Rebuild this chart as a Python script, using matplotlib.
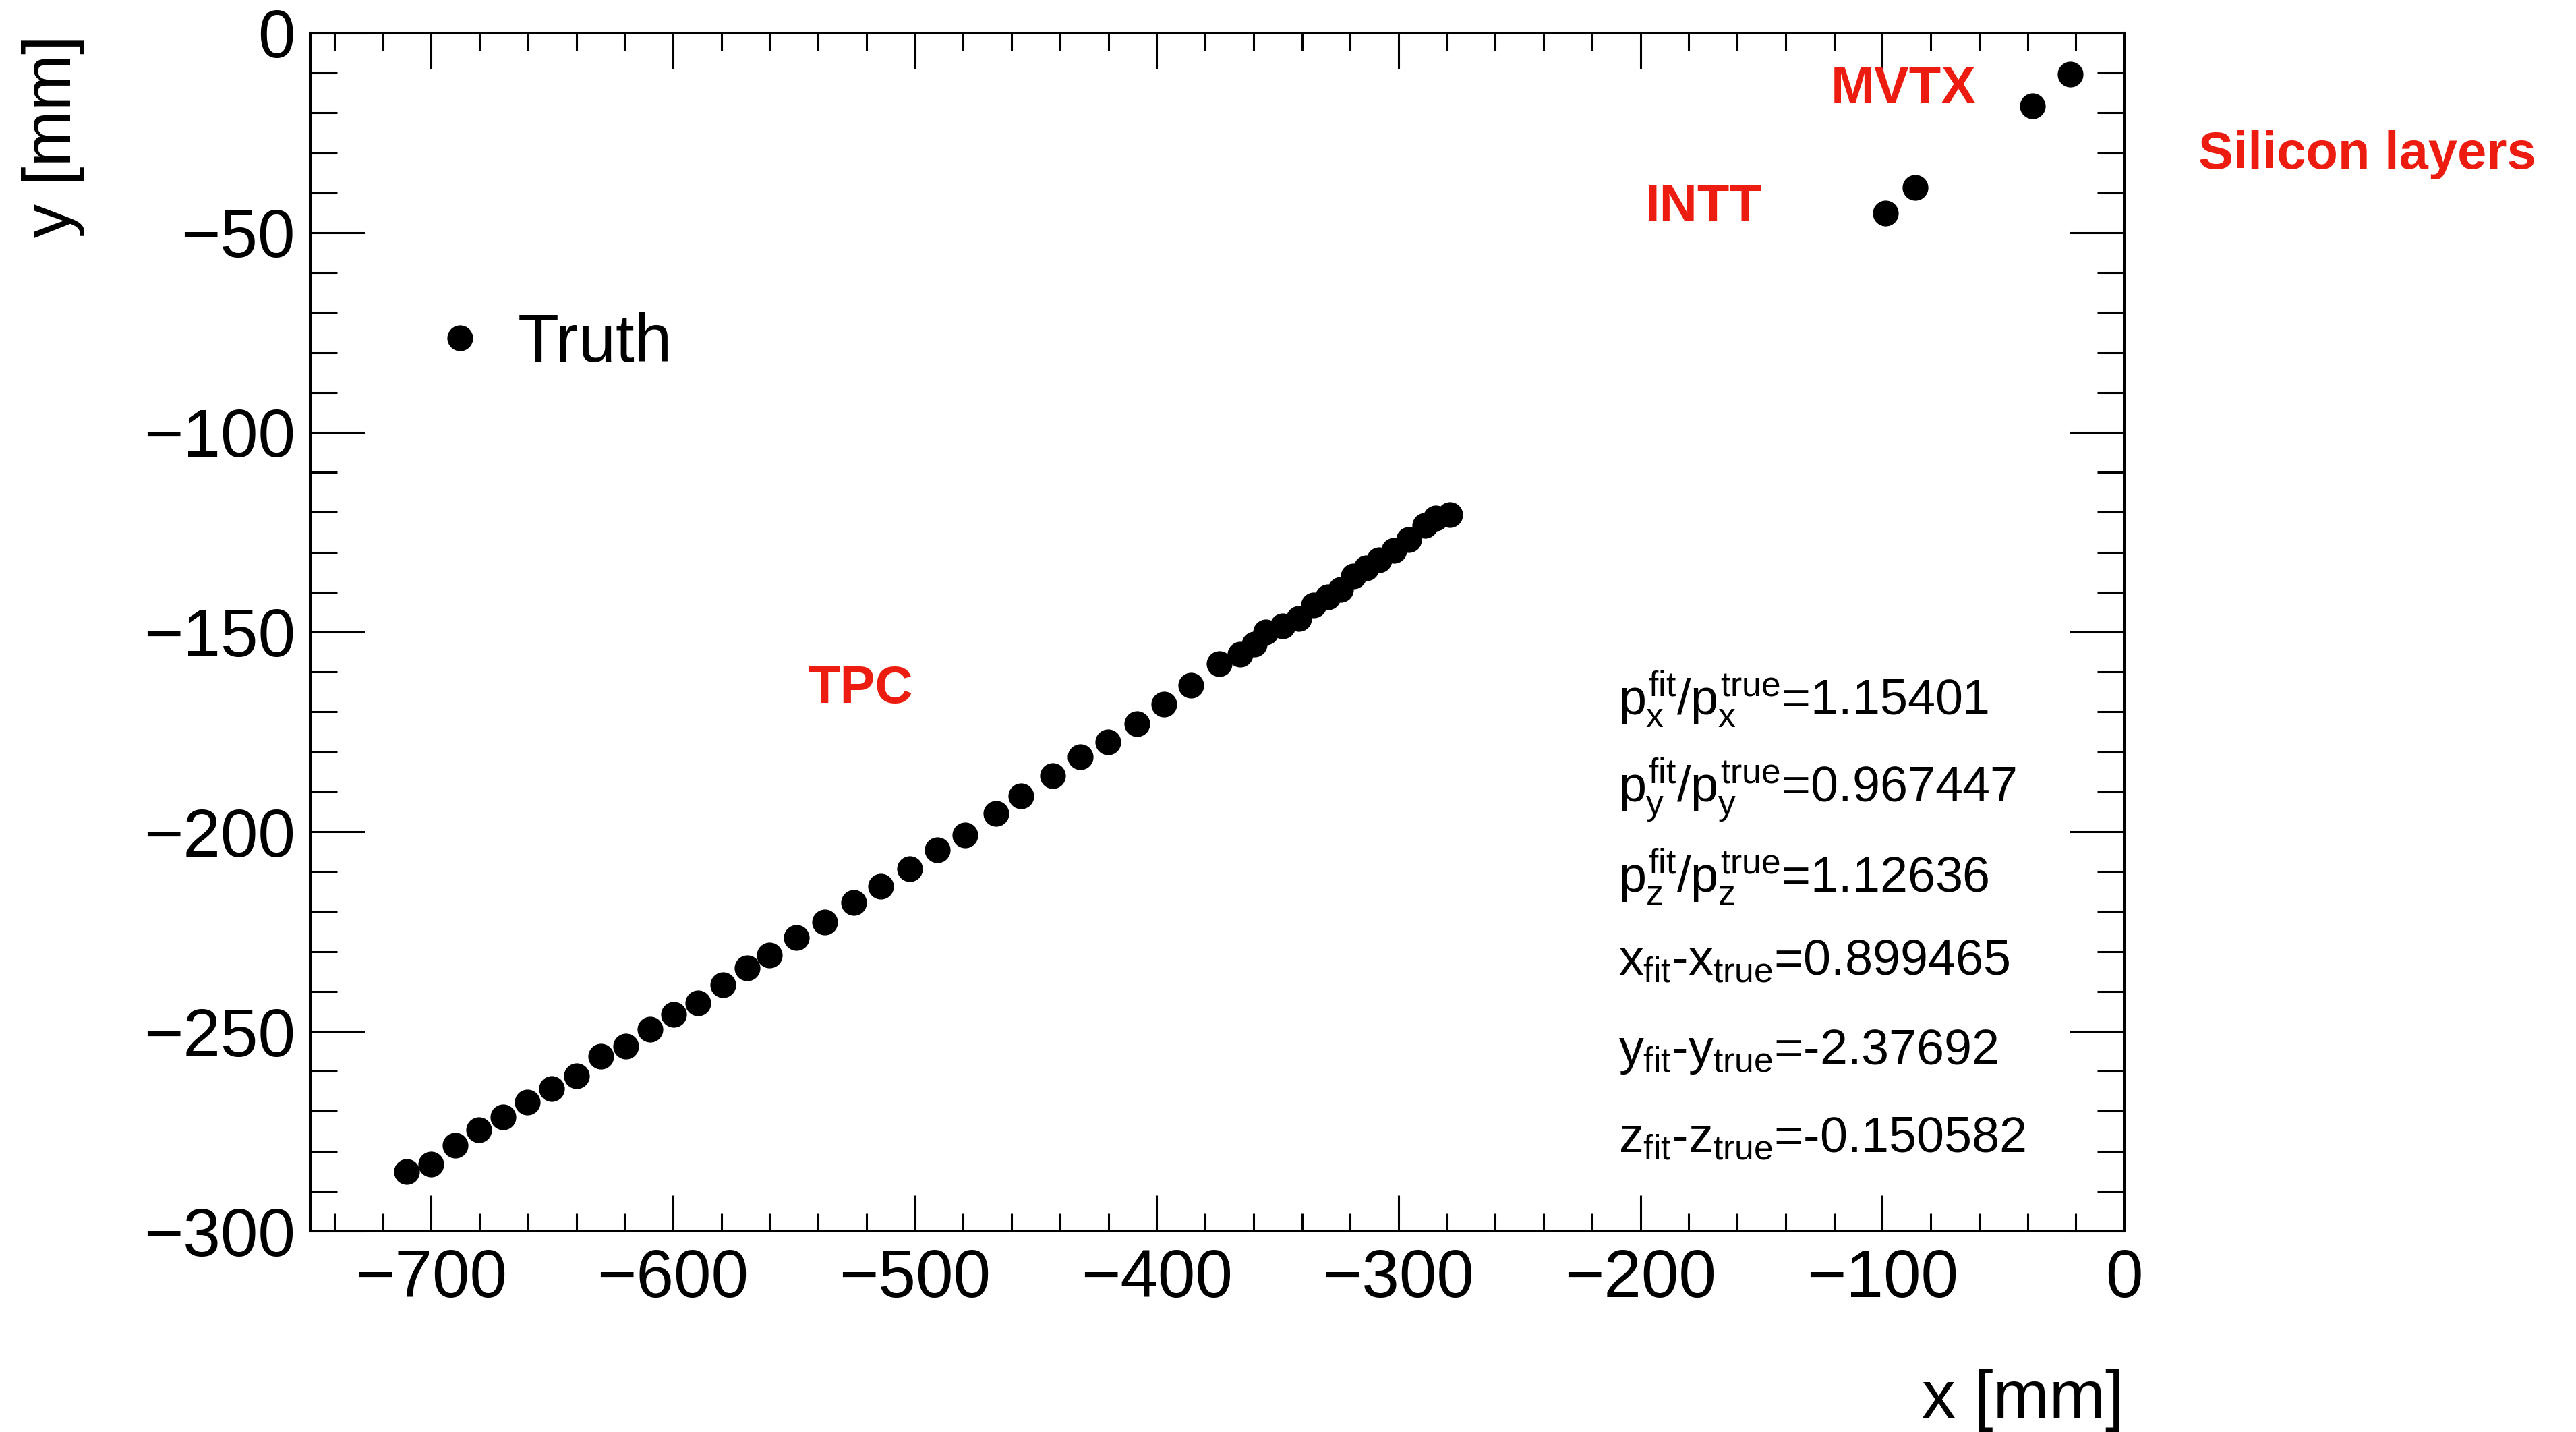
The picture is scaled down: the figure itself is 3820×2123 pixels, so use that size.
import matplotlib
matplotlib.use('Agg')
import matplotlib.pyplot as plt
from matplotlib.ticker import MultipleLocator

plt.rcParams['font.family'] = ['Liberation Sans', 'DejaVu Sans']
plt.rcParams['mathtext.fontset'] = 'custom'
plt.rcParams['mathtext.rm'] = 'Liberation Sans'
plt.rcParams['mathtext.it'] = 'Liberation Sans'
plt.rcParams['mathtext.bf'] = 'Liberation Sans:bold'

# truth hits (TPC)
x_tpc = [-710.2, -700.0, -690.1, -680.2, -670.2, -660.3, -650.1, -639.8, -629.9, -619.4,
         -609.4, -599.8, -589.6, -579.4, -569.4, -560.2, -549.0, -537.4, -525.3, -514.1,
         -502.2, -490.7, -479.2, -466.4, -456.2, -443.0, -431.5, -420.3, -408.2, -397.0,
         -385.8, -374.2, -365.6, -359.8, -355.0, -348.0, -341.3, -335.2, -329.4, -324.0,
         -318.6, -313.4, -308.0, -301.9, -295.8, -289.1, -284.6, -278.9]
y_tpc = [-285.2, -283.2, -278.6, -274.6, -271.4, -267.8, -264.3, -261.2, -256.3, -253.7,
         -249.5, -245.7, -242.9, -238.4, -234.2, -230.9, -226.5, -222.7, -217.7, -213.7,
         -209.3, -204.5, -200.8, -195.5, -191.1, -185.9, -181.2, -177.5, -172.9, -168.0,
         -163.4, -157.9, -155.5, -153.1, -150.0, -148.4, -146.6, -143.3, -141.3, -139.4,
         -136.0, -133.9, -132.0, -129.5, -126.9, -123.3, -121.4, -120.6]
# silicon hits (INTT, MVTX)
x_si = [-98.8, -86.5, -37.9, -22.2]
y_si = [-45.1, -38.7, -18.2, -10.3]

x_truth = x_tpc + x_si
y_truth = y_tpc + y_si

stats_labels = [r'$p_{x}^{fit}/p_{x}^{true}$',
                r'$p_{y}^{fit}/p_{y}^{true}$',
                r'$p_{z}^{fit}/p_{z}^{true}$',
                r'$x_{fit}$-$x_{true}$',
                r'$y_{fit}$-$y_{true}$',
                r'$z_{fit}$-$z_{true}$']
stats_values = ['1.15401', '0.967447', '1.12636', '0.899465', '-2.37692', '-0.150582']

red = '#ed1c10'

fig = plt.figure(figsize=(38.2, 21.23), dpi=100)
ax = fig.add_axes([460/3820, 1 - 1825/2123, 2690/3820, 1776/2123])

ax.plot(x_truth, y_truth, 'o', color='black', markersize=26.5, linestyle='none', label='Truth')

ax.set_xlim(-750, 0)
ax.set_ylim(-300, 0)

ax.xaxis.set_major_locator(MultipleLocator(100))
ax.xaxis.set_minor_locator(MultipleLocator(20))
ax.yaxis.set_major_locator(MultipleLocator(50))
ax.yaxis.set_minor_locator(MultipleLocator(10))

ax.tick_params(axis='both', which='both', direction='in', top=True, right=True,
               width=2.2, labelsize=72)
ax.tick_params(axis='x', which='major', length=38, pad=18)
ax.tick_params(axis='x', which='minor', length=19)
ax.tick_params(axis='y', which='major', length=58, pad=16)
ax.tick_params(axis='y', which='minor', length=29)
for sp in ax.spines.values():
    sp.set_linewidth(2.9)

ax.set_xlabel('x [mm]', fontsize=72, ha='right', va='baseline')
ax.xaxis.set_label_coords(1.0, -(2102 - 1825) / 1776)
ax.set_ylabel('y [mm]', fontsize=72, ha='right', va='baseline', rotation_mode='anchor')
ax.yaxis.set_label_coords((105 - 460) / 2690, 0.998)

ax.legend(loc='center left', bbox_to_anchor=(0.0732, 0.7405), frameon=False,
          fontsize=72, handlelength=0.5, handletextpad=0.61, borderpad=0,
          borderaxespad=0, numpoints=1)

# detector labels
ax.text(-544.3, -167.7, 'TPC', color=red, fontsize=56, fontweight='bold', va='baseline')
ax.text(-197.9, -47.2, 'INTT', color=red, fontsize=56, fontweight='bold', va='baseline')
ax.text(-121.4, -17.6, 'MVTX', color=red, fontsize=56, fontweight='bold', va='baseline')
ax.text(30.7, -34.0, 'Silicon layers', color=red, fontsize=56, fontweight='bold',
        va='baseline', clip_on=False)

# fit results
stats_y = [-170.6, -192.6, -215.0, -235.7, -258.2, -280.2]
for lab, val, yy in zip(stats_labels, stats_values, stats_y):
    ax.text(-209.1, yy, lab + '=' + val, fontsize=53, va='baseline')

fig.savefig('out.png', dpi=100)
